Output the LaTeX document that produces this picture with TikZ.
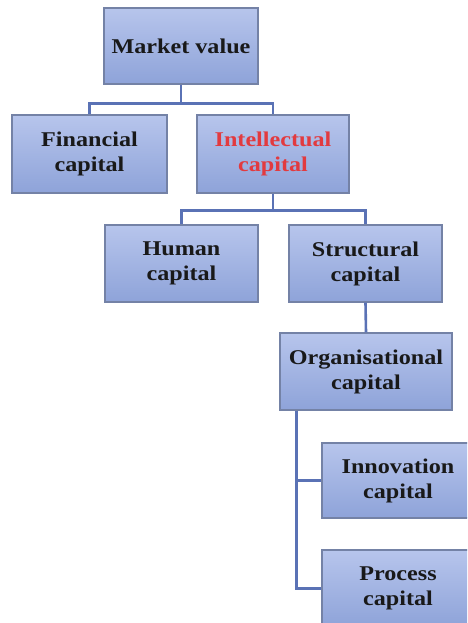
\documentclass[tikz,border=0pt]{standalone}
\usepackage{fontspec}
\setmainfont{Liberation Serif}[FakeStretch=1.15]
\usetikzlibrary{calc}
\definecolor{boxtop}{HTML}{B7C5EC}
\definecolor{boxbot}{HTML}{8EA3D9}
\definecolor{boxline}{HTML}{7482A6}
\definecolor{conn}{HTML}{5A72B5}
\definecolor{redtxt}{HTML}{E23A3F}
\tikzset{
  cbox/.style={rectangle, draw=boxline, line width=1.3pt, top color=boxtop, bottom color=boxbot,
    align=center, inner sep=0pt, font=\fontsize{21}{25}\selectfont\bfseries, text=black!90},
  conline/.style={draw=conn, line width=2.6pt}
}
\begin{document}
\begin{tikzpicture}[x=1pt,y=1pt]
\useasboundingbox (0,0) rectangle (467,623);
\clip (0,0) rectangle (467,623);
\node[cbox, minimum width=154pt, minimum height=76pt] (mv) at (181,577) {Market value};
\node[cbox, minimum width=155pt, minimum height=78pt] (fc) at (89.5,469) {Financial\\capital};
\node[cbox, minimum width=152pt, minimum height=78pt, text=redtxt] (ic) at (273,469) {Intellectual\\capital};
\node[cbox, minimum width=153pt, minimum height=77pt] (hc) at (181.5,359.5) {Human\\capital};
\node[cbox, minimum width=153pt, minimum height=77pt] (sc) at (365.5,359.5) {Structural\\capital};
\node[cbox, minimum width=172pt, minimum height=77pt] (oc) at (366,251.5) {Organisational\\capital};
\node[cbox, minimum width=152pt, minimum height=75pt] (inn) at (398,142.5) {Innovation\\capital};
\node[cbox, minimum width=152pt, minimum height=77pt] (pc) at (398,34.5) {Process\\capital};
\coordinate (j1) at ($(mv.south)+(0,-19)$);
\coordinate (j2) at ($(ic.south)+(0,-17)$);
\coordinate (ob) at ($(oc.south west)+(17,0)$);
\draw[conline] (mv.south) -- (j1) -| (fc.north);
\draw[conline] (j1) -| (ic.north);
\draw[conline] (ic.south) -- (j2) -| (hc.north);
\draw[conline] (j2) -| (sc.north);
\draw[conline] (sc.south) -- (oc.north);
\draw[conline] (ob) |- (inn.west);
\draw[conline] (ob) |- (pc.west);
\end{tikzpicture}
\end{document}
